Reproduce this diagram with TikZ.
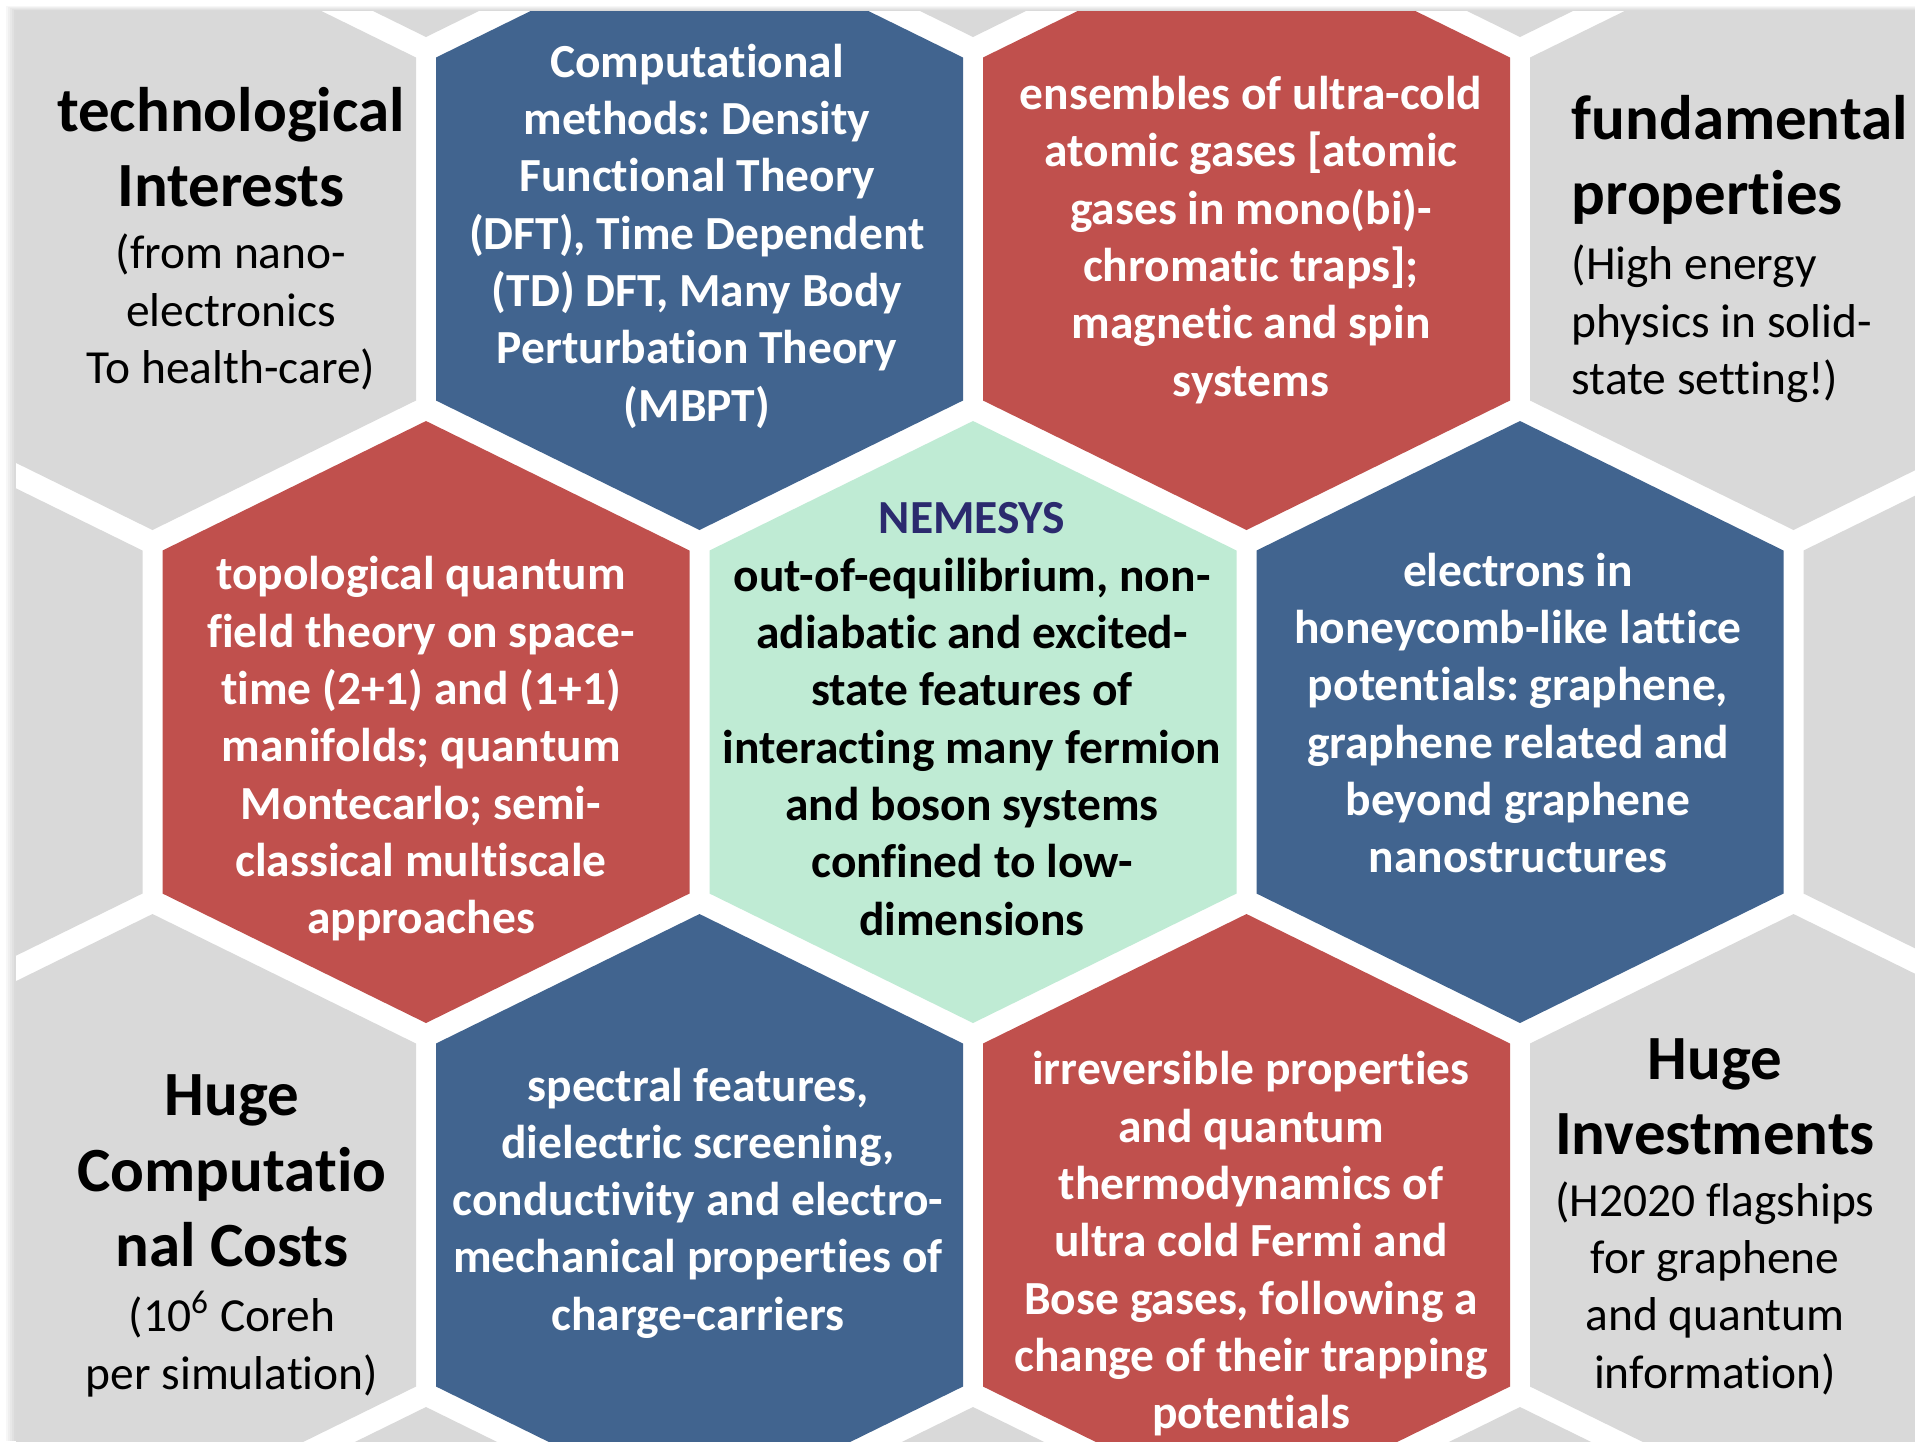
\documentclass[tikz,border=0pt]{standalone}
\usepackage{fontspec}
\setmainfont{Carlito}[Ligatures=CommonOff]
\frenchspacing

\definecolor{hexblue}{HTML}{41648F}
\definecolor{hexred}{HTML}{C0504D}
\definecolor{hexgreen}{HTML}{BFEBD4}
\definecolor{hexgrey}{HTML}{D9D9D9}
\definecolor{nemesys}{HTML}{2B2A6E}

% one cell of the comb: centre x, centre y, colour
\newcommand{\hexcell}[3]{%
  \fill[#3] (#1,#2) ++(0,-301) -- ++(263.5,129.5) -- ++(0,343)
    -- ++(-263.5,129.5) -- ++(-263.5,-129.5) -- ++(0,-343) -- cycle;
}

\tikzset{
  cell/.style={text=white, align=center, inner sep=0pt,
    font=\fontsize{13.5}{16.3}\selectfont\bfseries},
  celltitle/.style={align=center, inner sep=0pt,
    font=\fontsize{17.9}{21.4}\selectfont\bfseries},
  cellnote/.style={align=center, inner sep=0pt,
    font=\fontsize{13.5}{16.3}\selectfont},
}

\begin{document}
\begin{tikzpicture}[x=0.01cm, y=-0.01cm]
	\useasboundingbox (0,0) rectangle (1915,1441);
	% soft shadow round the panel
	\foreach \s in {2,4,...,10}
		\fill[black, opacity=.03] (16-\s,11-\s/2) rectangle (1915,1441);
	\fill[white] (16,11) rectangle (1915,1441);
	\begin{scope}
		\clip (16,11) rectangle (1915,1441);
		% rows above and below, only the tips show
		\foreach \x in {-121,426,973,1520,2067} {
			\hexcell{\x}{-264}{hexgrey}
			\hexcell{\x}{1708}{hexgrey}
		}
		% top row
		\hexcell{152.5}{229}{hexgrey}
		\hexcell{699.5}{229}{hexblue}
		\hexcell{1246.5}{229}{hexred}
		\hexcell{1793.5}{229}{hexgrey}
		% middle row
		\hexcell{-121}{722}{hexgrey}
		\hexcell{426}{722}{hexred}
		\hexcell{973}{722}{hexgreen}
		\hexcell{1520}{722}{hexblue}
		\hexcell{2067}{722}{hexgrey}
		% bottom row
		\hexcell{152.5}{1215}{hexgrey}
		\hexcell{699.5}{1215}{hexblue}
		\hexcell{1246.5}{1215}{hexred}
		\hexcell{1793.5}{1215}{hexgrey}
	\end{scope}

	\node[celltitle] (techtitle) at (231,147) {technological\\Interests};
	\node[cellnote] (technote) at (231,312) {(from nano-\\electronics\\To health-care)};

	\node[cell] (methods) at (697,236) {Computational\\methods: Density\\Functional Theory\\(DFT), Time Dependent\\(TD) DFT, Many Body\\Perturbation Theory\\(MBPT)};

	\node[cell] (gases) at (1251,240) {ensembles of ultra-cold\\atomic gases [atomic\\gases in mono(bi)-\\chromatic traps];\\magnetic and spin\\systems};

	\node[celltitle, anchor=west, align=left] (fundtitle) at (1571,160) {fundamental\\properties};
	\node[cellnote, anchor=west, align=left] (fundnote) at (1571,324) {(High energy\\physics in solid-\\state setting!)};

	\node[cell] (topo) at (421,749) {topological quantum\\field theory on space-\\time (2+1) and (1+1)\\manifolds; quantum\\Montecarlo; semi-\\classical multiscale\\approaches};

	\node[cell, text=black] (core) at (972,719) {\textcolor{nemesys}{NEMESYS}\\out-of-equilibrium, non-\\adiabatic and excited-\\state features of\\interacting many fermion\\and boson systems\\confined to low-\\dimensions};

	\node[cell] (honey) at (1518,713) {electrons in\\honeycomb-like lattice\\potentials: graphene,\\graphene related and\\beyond graphene\\nanostructures};

	\node[celltitle] (costtitle) at (232,1171) {Huge\\Computatio\\nal Costs};
	\node[cellnote] (costnote) at (232,1344) {(10\textsuperscript{6} Coreh\\per simulation)};

	\node[cell] (spectra) at (698,1203) {spectral features,\\dielectric screening,\\conductivity and electro-\\mechanical properties of\\charge-carriers};

	\node[cell] (thermo) at (1251,1244) {irreversible properties\\and quantum\\thermodynamics of\\ultra cold Fermi and\\Bose gases, following a\\change of their trapping\\potentials};

	\node[celltitle] (investtitle) at (1715,1097) {Huge\\Investments};
	\node[cellnote] (investnote) at (1715,1288) {(H2020 flagships\\for graphene\\and quantum\\information)};
\end{tikzpicture}
\end{document}
